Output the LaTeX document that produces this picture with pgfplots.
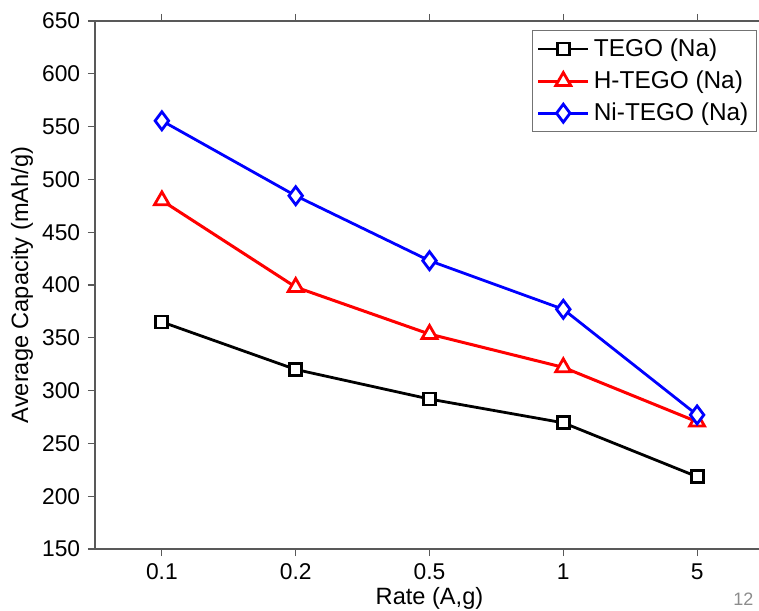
\documentclass[border=0pt]{standalone}
\usepackage{pgfplots}
\pgfplotsset{compat=1.18}
\usepackage{fontspec}
\setmainfont{Liberation Sans}
\begin{document}
\fontsize{11.2}{13}\selectfont
\begin{tikzpicture}
\begin{axis}[
  at={(0,0)}, anchor=south west,
  scale only axis,
  width=334.5pt, height=264pt,
  xmin=-0.5, xmax=4.5,
  ymin=150, ymax=650,
  xtick={0,1,2,3,4},
  xticklabels={0.1,0.2,0.5,1,5},
  ytick={150,200,...,650},
  axis x line*=box,
  axis y line*=left,
  tick align=outside,
  major tick length=3.5pt,
  axis line style={draw=black!65, line width=0.6pt},
  every tick/.style={draw=black!65, line width=0.6pt},
  tick label style={font=\fontsize{11.4}{13}\selectfont},
  /pgf/number format/assume math mode=true,
  xlabel={Rate (A,g)},
  ylabel={Average Capacity (mAh/g)},
  label style={font=\fontsize{11.8}{13}\selectfont},
  xlabel style={at={(axis description cs:0.5,-0.0928)}, anchor=center},
  ylabel style={at={(axis description cs:-0.109,0.5)}, anchor=center},
  legend style={at={(0.9895,0.983)}, anchor=north east, draw=black!55, line width=0.6pt,
    font=\fontsize{12.2}{14}\selectfont, inner xsep=2pt, inner ysep=2pt, row sep=1.5pt, cells={anchor=west}},
  legend cell align=left,
  legend image code/.code={\draw[mark repeat=2, mark phase=2] plot coordinates {(0cm,0cm) (0.44cm,0cm) (0.88cm,0cm)};},
]
\addplot[black, line width=1.4pt, mark=square*, mark size=3pt, mark options={solid, fill=white, line width=1.4pt}]
  coordinates {(0,365) (1,320) (2,292) (3,269.5) (4,218.5)};
\addlegendentry{TEGO (Na)}
\addplot[red, line width=1.5pt, mark=triangle*, mark size=4.3pt, mark options={solid, fill=white, line width=1.4pt}]
  coordinates {(0,480) (1,398) (2,353.5) (3,322) (4,270.5)};
\addlegendentry{H-TEGO (Na)}
\addplot[blue, line width=1.4pt, mark=diamond*, mark size=4.5pt, mark options={solid, fill=white, line width=1.4pt}]
  coordinates {(0,555.5) (1,484.5) (2,423) (3,377) (4,277)};
\addlegendentry{Ni-TEGO (Na)}
\end{axis}
\node[text=black!45, anchor=north west, inner sep=0pt, font=\fontsize{9}{10}\selectfont] at (319pt,-22pt) {12};
\pgfresetboundingbox
\useasboundingbox (-47.5pt,-30.5pt) rectangle (332pt,274.5pt);
\end{tikzpicture}
\end{document}
